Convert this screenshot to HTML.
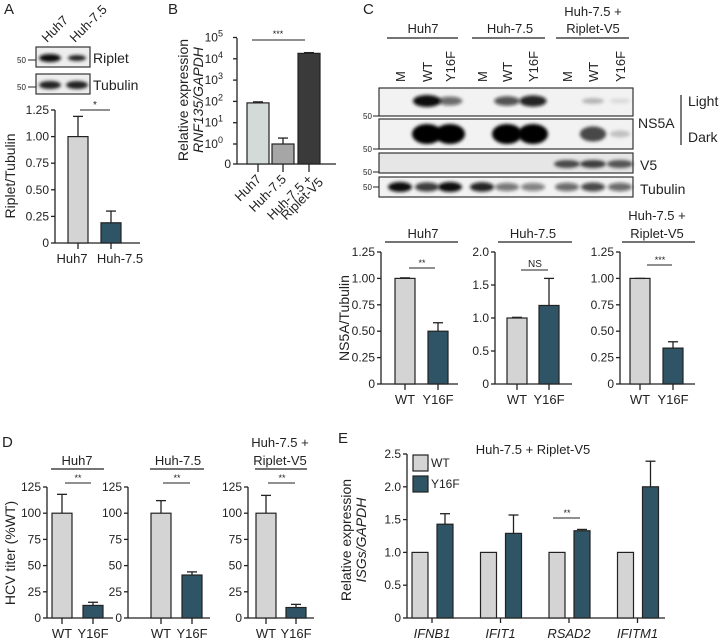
<!DOCTYPE html>
<html><head><meta charset="utf-8"><style>
body{margin:0;background:#fff}
svg{display:block;font-family:"Liberation Sans",Arial,sans-serif}
</style></head><body>
<svg id="fig" width="720" height="643" viewBox="0 0 720 643" xmlns="http://www.w3.org/2000/svg">
<defs><filter id="blur" x="-50%" y="-50%" width="200%" height="200%"><feGaussianBlur stdDeviation="1.6"/></filter></defs>
<g id="static"></g>
</svg>
<script>
// ---------- DATA ----------
const aCats=["Huh7","Huh-7.5"];
const aVals=[1.0,0.19];
const aErr=[1.19,0.30];
const aTicks=[0,0.25,0.5,0.75,1.0,1.25];
const aTickLabels=["0","0.25","0.50","0.75","1.00","1.25"];

const bCats=["Huh7","Huh-7.5","Huh-7.5 +|Riplet-V5"];
const bVals=[85,1.0,18000];
const bErr=[95,1.9,19500];

const cCats=["WT","Y16F"];
const c1Vals=[1.0,0.50]; const c1Err=[1.005,0.58];
const c2Vals=[1.0,1.19]; const c2Err=[1.01,1.60];
const c3Vals=[1.0,0.34]; const c3Err=[1.0,0.40];
const c1Ticks=[0,0.25,0.5,0.75,1.0,1.25]; const c1TickLabels=["0","0.25","0.50","0.75","1.00","1.25"];
const c2Ticks=[0,0.5,1.0,1.5,2.0]; const c2TickLabels=["0","0.5","1.0","1.5","2.0"];

const dCats=["WT","Y16F"];
const d1Vals=[100,12]; const d1Err=[118,15];
const d2Vals=[100,41]; const d2Err=[112,44];
const d3Vals=[100,10]; const d3Err=[117,13];
const dTicks=[0,25,50,75,100,125]; const dTickLabels=["0","25","50","75","100","125"];

const eGenes=["IFNB1","IFIT1","RSAD2","IFITM1"];
const eWT=[1,1,1,1];
const eY16F=[1.43,1.29,1.33,2.0];
const eY16FErr=[1.59,1.57,1.35,2.39];
const eTicks=[0,0.5,1.0,1.5,2.0,2.5]; const eTickLabels=["0","0.5","1.0","1.5","2.0","2.5"];

// ---------- HELPERS ----------
const NS="http://www.w3.org/2000/svg";
const root=document.getElementById('static');
function el(tag,attrs,parent,text){const e=document.createElementNS(NS,tag);for(const k in attrs)e.setAttribute(k,attrs[k]);if(text!==undefined)e.textContent=text;(parent||root).appendChild(e);return e;}
function txt(x,y,s,size,anchor,extra){const t=el('text',Object.assign({x:x,y:y,'font-size':size,'text-anchor':anchor||'middle',fill:'#222'},extra||{}),root,s);

return t;}
function line(x1,y1,x2,y2,w){const l=el('line',{x1,y1,x2,y2,stroke:'#222','stroke-width':w||1.3});

return l;}
function linScale(d0,d1,r0,r1){return v=>r0+(v-d0)/(d1-d0)*(r1-r0);}
function bar(x,w,yBase,yTop,fill,name){const r=el('rect',{x:x,y:Math.min(yTop,yBase),width:w,height:Math.abs(yBase-yTop),fill:fill,stroke:'#222','stroke-width':1.2});

return r;}
function errBar(cx,yTop,yErr,half){line(cx,yTop,cx,yErr,1.3);line(cx-half,yErr,cx+half,yErr,1.3);}
function yAxis(x,y,ticks,labels,fs){const yb=y(ticks[0]),yt=y(ticks[ticks.length-1]);line(x,yb,x,yt,1.3);
ticks.forEach((t,i)=>{line(x-4,y(t),x,y(t),1.3);txt(x-6,y(t)+4,labels[i],fs||12,'end');});}

// ---------- PANEL A ----------
txt(4,14,"A",15,'start');
txt(17,63,"50",8,'start');line(28,60,36,60,1);txt(17,90,"50",8,'start');line(28,87,36,87,1);
el('rect',{x:36,y:47,width:54,height:20,fill:'#eee',stroke:'#333','stroke-width':1.2});
el('rect',{x:36,y:74,width:54,height:20,fill:'#eee',stroke:'#333','stroke-width':1.2});
el('ellipse',{cx:50,cy:58,rx:11,ry:4,fill:'#111',filter:'url(#blur)'});
el('ellipse',{cx:77,cy:58,rx:9,ry:3,fill:'#222',filter:'url(#blur)'});
el('ellipse',{cx:50,cy:85,rx:11,ry:4,fill:'#222',filter:'url(#blur)'});
el('ellipse',{cx:77,cy:85,rx:11,ry:4,fill:'#222',filter:'url(#blur)'});
txt(93,63,"Riplet",14,'start');txt(93,90,"Tubulin",14,'start');
txt(47,43,"Huh7",13,'start',{transform:'rotate(-45 47 43)'});
txt(75,43,"Huh-7.5",13,'start',{transform:'rotate(-45 75 43)'});
(function(){const y=linScale(0,1.25,243,110);yAxis(55,y,aTicks,aTickLabels);
line(55,243,140,243,1.3);const cols=['#d4d4d4','#2e5466'];const cx=[78,111];const lx=[72,120];
aCats.forEach((c,i)=>{bar(cx[i]-10,20,243,y(aVals[i]),cols[i],'bar-'+c.toLowerCase());errBar(cx[i],y(aVals[i]),y(aErr[i]),5);
line(cx[i],243,cx[i],249,1.3);txt(lx[i],263,c,13);});
line(80,110,110,110,1);txt(95,108,"*",10);
txt(15,176,"Riplet/Tubulin",14,'middle',{transform:'rotate(-90 15 176)'});})();

// ---------- PANEL B ----------
txt(168,14,"B",15,'start');
(function(){const y=v=>144-21.3*Math.log10(v);const x0=237;
line(x0,164,x0,38,1.3);line(x0,164,336,164,1.3);
for(let k=0;k<=5;k++){line(x0-4,y(Math.pow(10,k)),x0,y(Math.pow(10,k)),1.3);
const t=txt(x0-14,y(Math.pow(10,k))+4,"10",12,'end');const s=el('tspan',{dy:-5,'font-size':9},t,String(k));}
line(x0-4,164,x0,164,1.3);txt(x0-6,168,"0",12,'end');
const cols=['#d3dbd9','#a6a6a6','#3a3a3a'];const cx=[258,283,309];
bCats.forEach((c,i)=>{bar(cx[i]-11,22,164,y(bVals[i]),cols[i],'bar-b-'+i);errBar(cx[i],y(bVals[i]),y(bErr[i]),5);
line(cx[i],164,cx[i],172,1.3);const parts=c.split('|');
parts.forEach((p,j)=>{txt(cx[i]+4+j*11,180+j*3,p,13,'end',{transform:`rotate(-45 ${cx[i]+4+j*11} ${180+j*3})`});});});
line(252,40,305,40,1);txt(278,37,"***",9);
txt(188,100,"Relative expression",14,'middle',{transform:'rotate(-90 188 100)'});
txt(203,100,"RNF135/GAPDH",14,'middle',{transform:'rotate(-90 203 100)','font-style':'italic'});})();

// ---------- PANEL C blot ----------
txt(363,14,"C",15,'start');
txt(423,33,"Huh7",13);line(387,38,458,38,1.2);
txt(510,33,"Huh-7.5",13);line(472,38,545,38,1.2);
txt(593,16,"Huh-7.5 +",13);txt(593,33,"Riplet-V5",13);line(556,38,629,38,1.2);
const lanes=[400,427,450,482,507,533,567,593,620];const laneL=["M","WT","Y16F","M","WT","Y16F","M","WT","Y16F"];
lanes.forEach((x,i)=>txt(x+5,82,laneL[i],13,'start',{transform:`rotate(-90 ${x+5} 82)`}));
const rows=[[88,116],[119,149],[153,173],[177,197]];
rows.forEach(r=>el('rect',{x:379,y:r[0],width:254,height:r[1]-r[0],fill:r[0]==153?'#e6e6e6':'#f2f2f2',stroke:'#333','stroke-width':1.2}));
const light=[0,1,0.6,0,0.7,0.9,0,0.25,0.1],dark=[0,1,1,0,1,1,0,0.7,0.2],v5=[0,0,0,0,0,0,0.8,0.85,0.75],tub=[1,0.8,1,0.9,0.55,0.5,0.6,0.75,0.6];
lanes.forEach((x,i)=>{
if(light[i])el('ellipse',{cx:x,cy:101,rx:10+4*light[i],ry:2+4*light[i],fill:'#111','fill-opacity':light[i],filter:'url(#blur)'});
if(dark[i])el('ellipse',{cx:x,cy:134,rx:9+6*dark[i],ry:2+8*dark[i],fill:'#000','fill-opacity':dark[i],filter:'url(#blur)'});
if(v5[i])el('ellipse',{cx:x,cy:164,rx:13,ry:4,fill:'#222','fill-opacity':v5[i],filter:'url(#blur)'});
el('ellipse',{cx:x,cy:187,rx:12,ry:3+2*tub[i],fill:'#111','fill-opacity':tub[i],filter:'url(#blur)'});});
[[116,"50"],[149,"50"],[172,"50"],[187,"50"]].forEach(p=>{txt(363,p[0]+3,p[1],8,'start');line(373,p[0],379,p[0],1);});
txt(638,128,"NS5A",14,'start');line(681,95,681,145,1.2);txt(688,106,"Light",14,'start');txt(688,142,"Dark",14,'start');
txt(640,170,"V5",14,'start');txt(640,194,"Tubulin",14,'start');

// ---------- generic small WT/Y16F chart ----------
function smallChart(ax,yb,yt,dmax,ticks,labels,vals,err,cats,barX,axEnd,fs){
const y=linScale(0,dmax,yb,yt);yAxis(ax,y,ticks,labels,fs);line(ax,yb,axEnd,yb,1.3);
const cols=['#d4d4d4','#2e5466'];
cats.forEach((c,i)=>{const cx=barX[i];bar(cx-10,20,yb,y(vals[i]),cols[i],'bar-'+c.toLowerCase());errBar(cx,y(vals[i]),y(err[i]),5);
line(cx,yb,cx,yb+6,1.3);txt(cx,yb+20,c,13);});}

smallChart(381,384,252,1.25,c1Ticks,c1TickLabels,c1Vals,c1Err,cCats,[405,438],458);
txt(423,238,"Huh7",13);line(385,242,458,242,1.2);line(409,268,435,268,1);txt(422,266,"**",9);
smallChart(495,384,252,2.0,c2Ticks,c2TickLabels,c2Vals,c2Err,cCats,[517,549],572);
txt(533,238,"Huh-7.5",13);line(498,242,572,242,1.2);line(521,270,548,270,1);txt(535,267,"NS",10);
smallChart(620,384,252,1.25,c1Ticks,c1TickLabels,c3Vals,c3Err,cCats,[640,673],695);
txt(657,220,"Huh-7.5 +",13);txt(657,238,"Riplet-V5",13);line(622,242,695,242,1.2);line(647,265,672,265,1);txt(660,263,"***",9);
txt(349,318,"NS5A/Tubulin",14,'middle',{transform:'rotate(-90 349 318)'});

// ---------- PANEL D ----------
txt(2,447,"D",15,'start');
smallChart(47,618,487,125,dTicks,dTickLabels,d1Vals,d1Err,dCats,[62,93],113);
txt(77,465,"Huh7",13);line(51,469,104,469,1.2);line(65,483,91,483,1);txt(78,481,"**",9);
smallChart(128,618,487,125,dTicks,dTickLabels,d2Vals,d2Err,dCats,[161,192],210);
txt(178,465,"Huh-7.5",13);line(150,469,204,469,1.2);line(163,483,190,483,1);txt(177,481,"**",9);
smallChart(248,618,487,125,dTicks,dTickLabels,d3Vals,d3Err,dCats,[266,296],314);
txt(280,447,"Huh-7.5 +",13);txt(280,465,"Riplet-V5",13);line(255,469,307,469,1.2);line(268,483,295,483,1);txt(282,481,"**",9);
txt(15,553,"HCV titer (%WT)",14,'middle',{transform:'rotate(-90 15 553)'});

// ---------- PANEL E ----------
txt(338,443,"E",15,'start');
(function(){const ax=407,yb=618;const y=linScale(0,2.5,yb,454);yAxis(ax,y,eTicks,eTickLabels);line(ax,yb,665,yb,1.3);
eGenes.forEach((g,i)=>{const c=432+i*68.5;
bar(c-20,16,yb,y(eWT[i]),'#d4d4d4','bar-e-wt-'+g.toLowerCase());
bar(c+5,16,yb,y(eY16F[i]),'#2e5466','bar-e-y16f-'+g.toLowerCase());
errBar(c+13,y(eY16F[i]),y(eY16FErr[i]),5);
line(c,yb,c,yb+5,1.3);txt(c,yb+20,g,13,'middle',{'font-style':'italic'});});
line(553,518,580,518,1);txt(567,516,"**",9);
txt(533,454,"Huh-7.5 + Riplet-V5",13);
const l1=el('rect',{x:413,y:455,width:15,height:16,fill:'#d4d4d4',stroke:'#222','stroke-width':1.2});


const l2=el('rect',{x:413,y:476,width:15,height:16,fill:'#2e5466',stroke:'#222','stroke-width':1.2});


txt(431,467,"WT",12,'start');txt(431,488,"Y16F",12,'start');
txt(351,540,"Relative expression",14,'middle',{transform:'rotate(-90 351 540)'});
txt(366,540,"ISGs/GAPDH",14,'middle',{transform:'rotate(-90 366 540)','font-style':'italic'});})();
</script>
</body></html>
